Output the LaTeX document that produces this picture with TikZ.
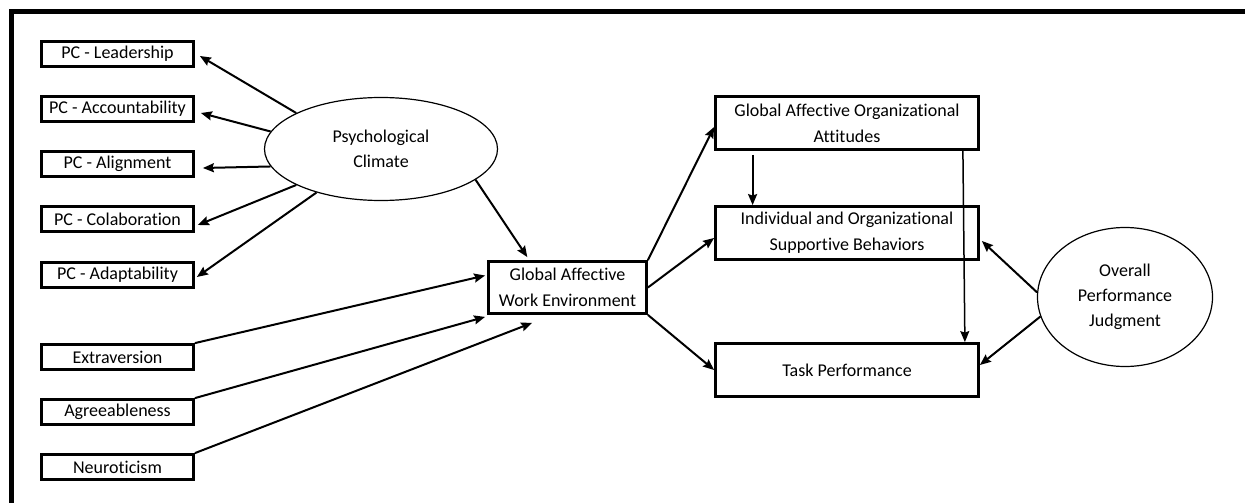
\documentclass[tikz,border=0pt]{standalone}
\usepackage{fontspec}
\setmainfont{Carlito}[Ligatures=NoCommon]
\usetikzlibrary{calc}
\usetikzlibrary{arrows.meta}
\usetikzlibrary{shapes.geometric}

\begin{document}
\begin{tikzpicture}[x=1pt, y=-1pt,
  box/.style={draw, line width=2.8pt, inner sep=0pt, minimum width=152pt, minimum height=25pt, align=center, font=\fontsize{18}{26}\selectfont},
  wide/.style={box, minimum width=263pt, minimum height=53pt},
  oval/.style={draw, ellipse, line width=1.2pt, inner sep=0pt, fill=white, align=center, font=\fontsize{18}{25}\selectfont},
  arr/.style={line width=2pt, -{Stealth[length=11pt,width=9pt,inset=1.5pt]}}]
\useasboundingbox (0,0) rectangle (1245,503);
\draw[line width=5pt] (1246,11.5) -- (11.5,11.5) -- (11.5,504);

\foreach \nm/\y/\lbl in {lead/54/Leadership, acc/109/Accountability, ali/164/Alignment, col/219/Colaboration, ada/275/Adaptability}
  \node[box] (\nm) at (117.5,\y) {PC - \lbl};
\foreach \nm/\y/\lbl in {ext/357/Extraversion, agr/412/Agreeableness, neu/467/Neuroticism}
  \node[box] (\nm) at (117.5,\y) {\lbl};

\node[oval, minimum width=233pt, minimum height=103pt] (psy) at (381,149) {Psychological\\Climate};
\node[box, minimum width=158pt, minimum height=52pt] (gawe) at (567.5,287.5) {Global Affective\\Work Environment};
\node[wide] (gaoa) at (847,123) {Global Affective Organizational\\Attitudes};
\node[wide] (iosb) at (847,233) {Individual and Organizational\\Supportive Behaviors};
\node[wide] (task) at (847,370) {Task Performance};
\node[oval, minimum width=175pt, minimum height=139pt] (opj) at (1125,297) {Overall\\Performance\\Judgment};

\draw[arr] (psy.157) -- ([xshift=5pt,yshift=-2pt]lead.east);
\draw[arr] (psy.171) -- ([xshift=6pt,yshift=-4pt]acc.east);
\draw[arr] (psy.189) -- ([xshift=8pt,yshift=-4pt]ali.east);
\draw[arr] (psy.203) -- ([xshift=3pt,yshift=-6pt]col.east);
\draw[arr] (psy.214) -- ([xshift=2pt,yshift=-2pt]ada.east);
\draw[arr] (psy.342) -- ($(gawe.north west)!.25!(gawe.north east)+(0,-3)$);

\draw[arr] (ext.north east) -- ([xshift=-2pt,yshift=12pt]gawe.west);
\draw[arr] (agr.north east) -- ([xshift=-2pt,yshift=-2pt]gawe.south west);
\draw[arr] (neu.north east) -- ($(gawe.south west)!.28!(gawe.south east)+(0,8)$);

\draw[arr] (gawe.north east) -- ([yshift=-4pt]gaoa.west);
\draw[arr] (gawe.east) -- ([yshift=-5pt]iosb.west);
\draw[arr] (gawe.south east) -- (task.west);
\draw[arr] ([xshift=38.5pt,yshift=-4pt]gaoa.south west) -- ([xshift=38.5pt]iosb.north west);
\draw[arr, line width=1.5pt] ([xshift=-17pt]gaoa.south east) -- ([xshift=-15pt]task.north east);

\draw[arr] (opj.177) -- ([xshift=2pt,yshift=-8pt]iosb.east);
\draw[arr] (opj.193) -- ([yshift=5pt]task.east);
\end{tikzpicture}
\end{document}
